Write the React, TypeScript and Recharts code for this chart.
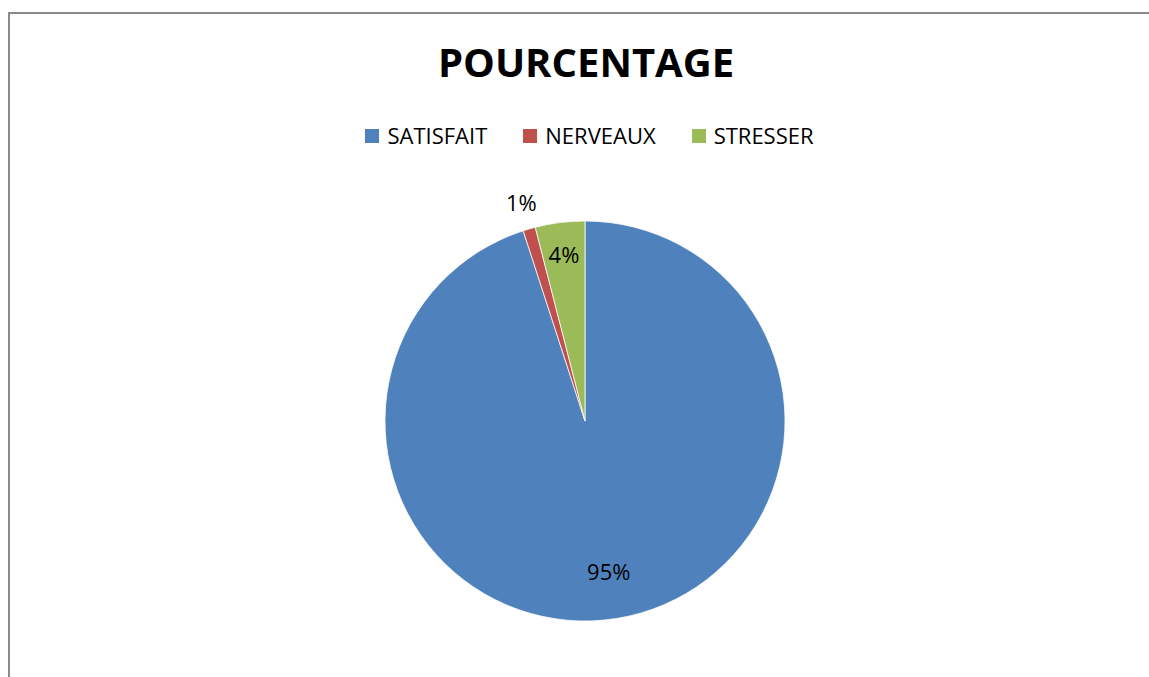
import { PieChart, Pie, Cell, Legend } from 'recharts'

const categories = ['SATISFAIT', 'NERVEAUX', 'STRESSER']
const values = [95, 1, 4]
const colors = ['#4F81BD', '#C0504D', '#9BBB59']

const FONT = '"Open Sans", sans-serif'

const data = categories.map((name, i) => ({ name, value: values[i] }))

const RAD = Math.PI / 180

function renderLabel(props: any) {
  const { cx, cy, midAngle, outerRadius, percent } = props
  // small slices get their label outside, like Excel's best fit
  let r = outerRadius * 0.84
  if (percent < 0.02) r = outerRadius * 1.14
  else if (percent > 0.5) r = outerRadius * 0.76
  const x = cx + r * Math.cos(-midAngle * RAD)
  const y = cy + r * Math.sin(-midAngle * RAD)
  return (
    <text
      x={x}
      y={y}
      fill="#000"
      textAnchor="middle"
      dominantBaseline="central"
      style={{ fontFamily: FONT, fontSize: 22 }}
    >
      {`${Math.round(percent * 100)}%`}
    </text>
  )
}

function LegendContent() {
  return (
    <div style={{ display: 'flex', justifyContent: 'center', fontFamily: FONT, fontSize: 22, lineHeight: '22px' }}>
      {categories.map((c, i) => (
        <div key={c} style={{ display: 'flex', alignItems: 'center', marginRight: i < categories.length - 1 ? 36 : 0 }}>
          <span style={{ width: 14, height: 14, background: colors[i], marginRight: 8, marginTop: 2 }} />
          <span style={{ color: '#000' }}>{c}</span>
        </div>
      ))}
    </div>
  )
}

export default function App() {
  return (
    <div style={{ position: 'relative', width: 1149, height: 677, overflow: 'hidden', background: '#fff' }}>
      <style>{'body{margin:0;overflow:hidden}'}</style>
      <div
        style={{
          position: 'absolute',
          left: 8,
          top: 12,
          width: 1160,
          height: 700,
          borderTop: '2px solid #8a8a8a',
          borderLeft: '2px solid #8a8a8a',
        }}
      />
      <div
        style={{
          position: 'absolute',
          left: 0,
          width: 1172,
          top: 42,
          textAlign: 'center',
          fontFamily: FONT,
          fontWeight: 700,
          fontSize: 40,
          lineHeight: '40px',
          color: '#000',
        }}
      >
        POURCENTAGE
      </div>
      <div style={{ position: 'absolute', left: 0, top: 0 }}>
        <PieChart width={1149} height={677} margin={{ top: 0, right: 0, bottom: 0, left: 0 }}>
          <Legend
            content={<LegendContent />}
            wrapperStyle={{ position: 'absolute', top: 124, left: 0, width: 1179 }}
          />
          <Pie
            data={data}
            dataKey="value"
            nameKey="name"
            cx={585}
            cy={421}
            outerRadius={200}
            startAngle={90}
            endAngle={-270}
            stroke="#ffffff"
            strokeWidth={0.75}
            label={renderLabel}
            labelLine={false}
            isAnimationActive={false}
          >
            {data.map((d, i) => (
              <Cell key={d.name} fill={colors[i]} />
            ))}
          </Pie>
        </PieChart>
      </div>
    </div>
  )
}
